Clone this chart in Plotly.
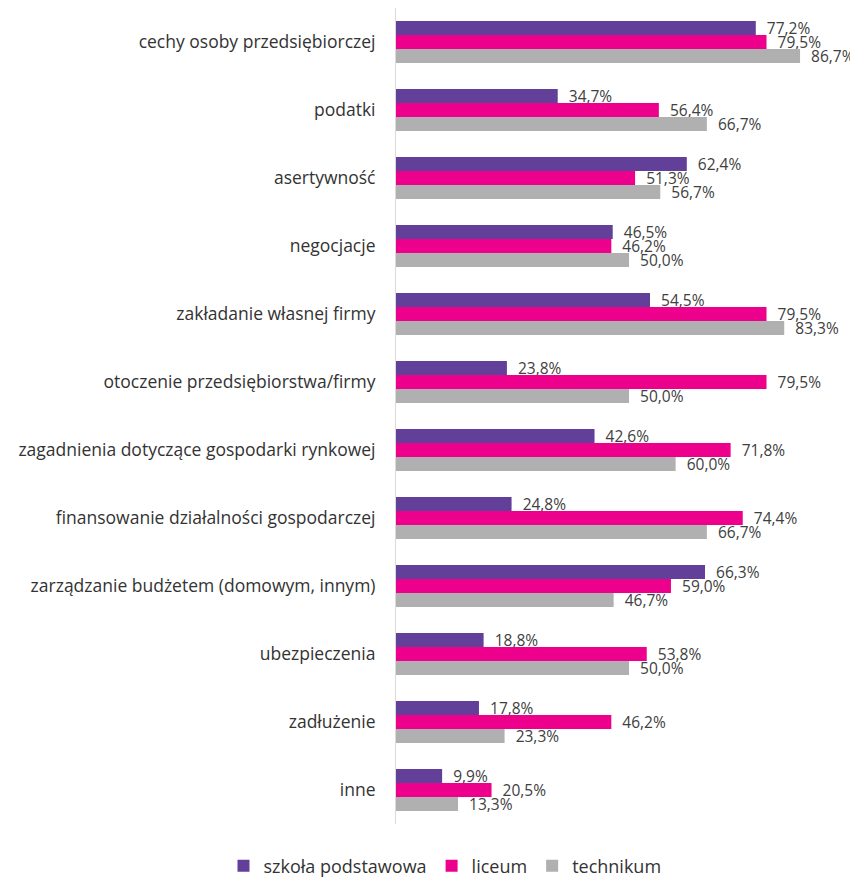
import plotly.graph_objects as go

categories = [
    "cechy osoby przedsiębiorczej",
    "podatki",
    "asertywność",
    "negocjacje",
    "zakładanie własnej firmy",
    "otoczenie przedsiębiorstwa/firmy",
    "zagadnienia dotyczące gospodarki rynkowej",
    "finansowanie działalności gospodarczej",
    "zarządzanie budżetem (domowym, innym)",
    "ubezpieczenia",
    "zadłużenie",
    "inne",
]
series_names = ["szkoła podstawowa", "liceum", "technikum"]
szkola_podstawowa = [77.2, 34.7, 62.4, 46.5, 54.5, 23.8, 42.6, 24.8, 66.3, 18.8, 17.8, 9.9]
liceum = [79.5, 56.4, 51.3, 46.2, 79.5, 79.5, 71.8, 74.4, 59.0, 53.8, 46.2, 20.5]
technikum = [86.7, 66.7, 56.7, 50.0, 83.3, 50.0, 60.0, 66.7, 46.7, 50.0, 23.3, 13.3]
colors = ["#62409a", "#ec008c", "#b0b0b0"]

fig = go.Figure()
for name, vals, col in zip(series_names, [szkola_podstawowa, liceum, technikum], colors):
    fig.add_trace(go.Bar(
        y=categories, x=vals, name=name, orientation="h",
        marker=dict(color=col, line=dict(width=0)),
        text=["\u00a0\u00a0" + f"{v:.1f}%".replace(".", ",") for v in vals],
        textposition="outside",
        constraintext="none",
        textfont=dict(family="Open Sans", size=15.5, color="#404040"),
        cliponaxis=False,
    ))

fig.update_layout(
    width=850, height=871,
    margin=dict(l=388, r=2, t=0, b=55, autoexpand=False),
    barmode="group", bargap=0.38, bargroupgap=0,
    plot_bgcolor="white", paper_bgcolor="white",
    font=dict(family="Open Sans", size=17.5, color="#333333"),
    showlegend=True,
    legend=dict(orientation="h", x=0.1065, xanchor="center", y=-0.0515, yanchor="middle",
                font=dict(size=18, color="#333333"), itemwidth=30, traceorder="normal"),
)
fig.update_xaxes(range=[0, 98.7], visible=False, showgrid=False, zeroline=False, automargin=False)
fig.update_yaxes(autorange="reversed", showline=True, linecolor="#d9d9d9", linewidth=1,
                 ticks="", ticklabelstandoff=16, showgrid=False, automargin=False,
                 tickfont=dict(family="Open Sans", size=17.5, color="#333333"))

fig.write_html("out.html")
